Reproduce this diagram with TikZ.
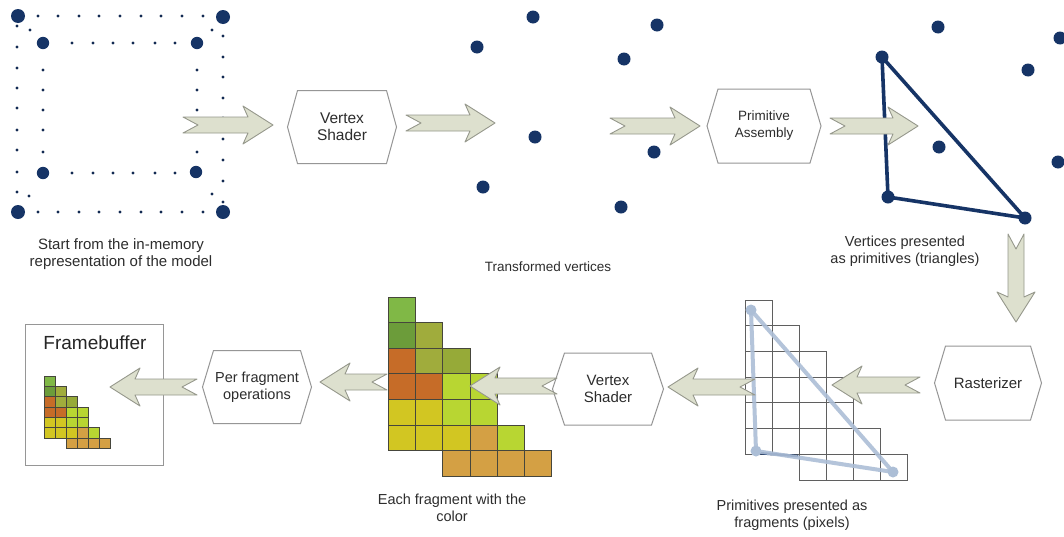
\documentclass[tikz,border=0pt]{standalone}
\usepackage{fontspec}
\setmainfont{Liberation Sans}
\usetikzlibrary{calc}
\definecolor{navy}{RGB}{22,52,102}
\definecolor{arrfill}{RGB}{221,224,206}
\definecolor{arrline}{RGB}{150,152,140}
\definecolor{hexline}{RGB}{150,150,150}
\definecolor{txt}{RGB}{45,45,45}
\definecolor{gridline}{RGB}{70,70,60}
\definecolor{rastline}{RGB}{95,95,95}
\definecolor{tri}{RGB}{172,190,214}
\definecolor{cgA}{RGB}{128,184,70}
\definecolor{cgB}{RGB}{108,156,58}
\definecolor{cOl}{RGB}{160,172,60}
\definecolor{cOlb}{RGB}{150,170,56}
\definecolor{cOr}{RGB}{198,108,40}
\definecolor{cLi}{RGB}{184,214,50}
\definecolor{cYe}{RGB}{210,198,34}
\definecolor{cTa}{RGB}{212,160,68}
\tikzset{
  blockarrow/.style={fill=arrfill, draw=arrline, line width=0.9pt, line join=round},
  hexstyle/.style={fill=white, draw=hexline, line width=1pt},
  boxtext/.style={align=center, text=txt, font=\fontsize{15}{17}\selectfont, inner sep=0pt},
  lbl/.style={align=center, text=txt, font=\fontsize{14.5}{17.5}\selectfont, inner sep=0pt},
  bigdot/.style={fill=navy},
  smalldot/.style={fill=navy!80!black},
}
\newcommand\barrow[4]{\draw[blockarrow, shift={(#1,#2)}, rotate=#4] (0,8) -- ({#3-25},8) -- ({#3-30},19) -- (#3,0) -- ({#3-30},-19) -- ({#3-25},-8) -- (0,-8) -- (15,0) -- cycle;}
\newcommand\hexbox[8]{%
  \draw[hexstyle] ({#2-#4},{#3-#5}) -- ({#2+#4},{#3-#5}) -- ({#2+#4+#6},#3) -- ({#2+#4},{#3+#5}) -- ({#2-#4},{#3+#5}) -- ({#2-#4-#6},#3) -- cycle;
  \node[boxtext, font=\fontsize{#7}{17}\selectfont] (#1) at (#2,#3) {#8};}
\newcommand\colorgrid[5]{%
  \foreach \c/\r/\col in {0/0/cgA, 0/1/cgB, 1/1/cOl, 0/2/cOr, 1/2/cOl, 2/2/cOlb, 0/3/cOr, 1/3/cOr, 2/3/cLi, 3/3/cLi, 0/4/cYe, 1/4/cYe, 2/4/cLi, 3/4/cLi, 0/5/cYe, 1/5/cYe, 2/5/cYe, 3/5/cTa, 4/5/cLi, 2/6/cTa, 3/6/cTa, 4/6/cTa, 5/6/cTa}
    \draw[fill=\col, draw=gridline, line width=#5] ({#1+\c*#3},{#2+\r*#4}) rectangle ++(#3,#4);}
\newcommand\rastgrid[4]{%
  \foreach \c/\r in {0/0, 0/1, 1/1, 0/2, 1/2, 2/2, 0/3, 1/3, 2/3, 3/3, 0/4, 1/4, 2/4, 3/4, 0/5, 1/5, 2/5, 3/5, 4/5, 2/6, 3/6, 4/6, 5/6}
    \draw[draw=rastline, line width=0.8pt] ({#1+\c*#3},{#2+\r*#4}) rectangle ++(#3,#4);}
\begin{document}
\begin{tikzpicture}[x=1pt,y=-1pt]
\useasboundingbox[fill=white] (0,0) rectangle (1064,536);

% ---- model (cube of dots)
\foreach \x in {38,58,79,99,120,141,161,182,203} {
  \fill[smalldot] (\x,16) circle (1.7pt);
  \fill[smalldot] (\x,212) circle (1.7pt);}
\foreach \y in {26,47,68,88,108,130,150,172,192} \fill[smalldot] (17,\y) circle (1.7pt);
\foreach \y in {36,57,77,98,118,139,160,181,202} \fill[smalldot] (223,\y) circle (1.7pt);
\foreach \p in {(30,30),(212,30),(29,196),(212,194)} \fill[smalldot] \p circle (1.7pt);
\foreach \x in {72,93,113,133,155,175} {
  \fill[smalldot] (\x,43) circle (1.7pt);
  \fill[smalldot] (\x,173) circle (1.7pt);}
\foreach \y in {70,90,110,130,152} {
  \fill[smalldot] (43,\y) circle (1.7pt);
  \fill[smalldot] (197,\y) circle (1.7pt);}
\foreach \p in {(18,16),(223,17),(18,212),(223,212)} \fill[bigdot] \p circle (7pt);
\foreach \p in {(43,43),(197,43),(43,173),(196,172)} \fill[bigdot] \p circle (6.2pt);

% ---- transformed vertices
\foreach \p in {(533,17),(477,47),(535,137),(483,187),(657,25),(624,59),(654,152),(621,207)}
  \fill[bigdot] \p circle (6.5pt);

% ---- primitives (triangle)
\coordinate (ta) at (882,57);
\coordinate (tb) at (888,197);
\coordinate (tc) at (1025,218);
\draw[navy, line width=3.6pt, line join=round] (ta) -- (tb) -- (tc) -- cycle;
\foreach \p in {(ta),(tb),(tc)} \fill[bigdot] \p circle (6.5pt);
\foreach \p in {(939,147),(1028,70),(1058,162),(938,27),(1060,38)} \fill[bigdot] \p circle (6.5pt);

% ---- hexagon stages
\hexbox{vs1}{342}{127}{44.5}{36.5}{10}{15.5}{Vertex\\Shader}
\hexbox{pa}{764}{126}{46}{37}{11}{13.5}{Primitive\\Assembly}
\hexbox{ras}{988}{383}{42.5}{37}{11}{15}{Rasterizer}
\hexbox{vs2}{608}{389}{43.5}{36}{12}{15}{Vertex\\Shader}
\hexbox{pfo}{257}{387}{43.5}{36.5}{11}{14.5}{Per fragment\\operations}

% ---- rasterized fragments
\rastgrid{745}{300}{27}{25.7}
\coordinate (ra) at (751,310);
\coordinate (rb) at (756,451);
\coordinate (rc) at (893,472);
\draw[navy, line width=2.5pt] (757,453) -- (798,456);
\draw[tri, line width=4pt, line join=round, opacity=0.9] (ra) -- (rb) -- (rc) -- cycle;
\foreach \p in {(ra),(rb),(rc)} \fill[tri] \p circle (5.5pt);

% ---- coloured fragments
\colorgrid{388}{297}{27.3}{25.6}{0.8pt}

% ---- framebuffer
\draw[draw=hexline, line width=1pt, fill=white] (25,324) rectangle (163,465);
\node[anchor=base, text=black!85, font=\fontsize{19}{22}\selectfont, inner sep=0pt] (fbt) at (95,349) {Framebuffer};
\colorgrid{44}{376}{11}{10.3}{0.5pt}

% ---- block arrows
\barrow{183}{125}{90}{0}
\barrow{406}{123}{89}{0}
\barrow{610}{126}{90}{0}
\barrow{830}{126}{88}{0}
\barrow{1016}{234}{88}{-90}
\barrow{920}{385}{88}{180}
\barrow{755}{387}{87}{180}
\barrow{557}{386}{87}{180}
\barrow{387}{382}{67}{180}
\barrow{197}{387}{87}{180}

% ---- labels
\node[lbl, font=\fontsize{15}{17.5}\selectfont] (l1) at (121,254) {Start from the in-memory\\representation of the model};
\node[lbl, font=\fontsize{13.5}{17}\selectfont] (l2) at (548,267) {Transformed vertices};
\node[lbl] (l3) at (905,251) {Vertices presented\\as primitives (triangles)};
\node[lbl] (l4) at (452,508) {Each fragment with the\\color};
\node[lbl] (l5) at (792,515) {Primitives presented as\\fragments (pixels)};
\end{tikzpicture}
\end{document}
